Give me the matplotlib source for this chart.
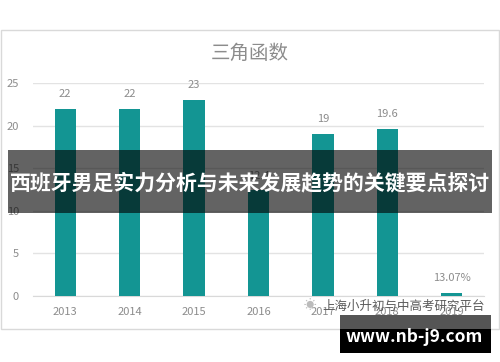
import matplotlib.pyplot as plt
from matplotlib.patches import Rectangle

plt.rcParams["font.family"] = ["Noto Sans CJK SC", "DejaVu Sans"]

years = ["2013", "2014", "2015", "2016", "2017", "2018", "2019"]
values = [22, 22, 23, 12.4, 19, 19.6, 0.4]
labels = ["22", "22", "23", "12.4", "19", "19.6", "13.07%"]
title = "三角函数"
banner_text = "西班牙男足实力分析与未来发展趋势的关键要点探讨"
source_text = "上海小升初与中高考研究平台"
site_text = "www.nb-j9.com"

W, H = 500, 362
fig = plt.figure(figsize=(W / 100, H / 100), dpi=100)
fig.patch.set_facecolor("white")


def fx(px):
    return px / W


def fy(py):
    return 1 - py / H


# chart frame
fig.patches.append(Rectangle((fx(1), fy(329)), fx(498), 299 / H, transform=fig.transFigure,
                             facecolor="white", edgecolor="#d9d9d9", lw=1, zorder=-5))

ax = fig.add_axes([fx(33), fy(296), fx(451), 213 / H])
ax.set_facecolor("none")
x = range(len(years))
ax.bar(x, values, width=0.33, color="#139593", zorder=3)
ax.set_xlim(-0.5, 6.5)
ax.set_ylim(0, 25)
ax.set_yticks([0, 5, 10, 15, 20, 25])
ax.set_xticks(list(x))
ax.set_xticklabels(years)
ax.grid(axis="y", color="#e3e3e3", lw=1, zorder=0)
for s in ax.spines.values():
    s.set_visible(False)
ax.spines["bottom"].set_visible(True)
ax.spines["bottom"].set_color("#d9d9d9")
ax.tick_params(length=0, colors="#8c8c8c", labelsize=8)
ax.tick_params(axis="y", pad=10)
ax.tick_params(axis="x", pad=8)

for xi, v, lab in zip(x, values, labels):
    ax.annotate(lab, (xi, v), xytext=(0, 7), textcoords="offset points",
                ha="center", va="bottom", fontsize=8, color="#8c8c8c")

fig.text(0.5, fy(53), title, ha="center", va="center", fontsize=14, color="#8c8c8c")

# dark banner across the chart
fig.patches.append(Rectangle((fx(8), fy(213)), fx(484), 63 / H, transform=fig.transFigure,
                             facecolor="black", alpha=0.61, zorder=10))
fig.text(0.5, fy(183), banner_text, ha="center", va="center", fontsize=15,
         fontweight="bold", color="white", zorder=11)

# source watermark with a small chat-bubble mark
fig.text(fx(310), fy(305), "\u2600", ha="center", va="center", fontsize=9,
         color="#bbbbbb", zorder=11)
fig.text(fx(485), fy(306), source_text, ha="right", va="center", fontsize=9,
         color="#5a5a5a", zorder=11)

# site box
fig.patches.append(Rectangle((fx(340), fy(329)), fx(151), 14 / H, transform=fig.transFigure,
                             facecolor="#555555", zorder=10))
fig.patches.append(Rectangle((fx(340), fy(353)), fx(151), 24 / H, transform=fig.transFigure,
                             facecolor="black", zorder=10))
fig.text(fx(414), fy(337), site_text, ha="center", va="center", fontsize=12.5,
         fontweight="bold", color="white", zorder=11)

fig.savefig("out.png", dpi=100)
